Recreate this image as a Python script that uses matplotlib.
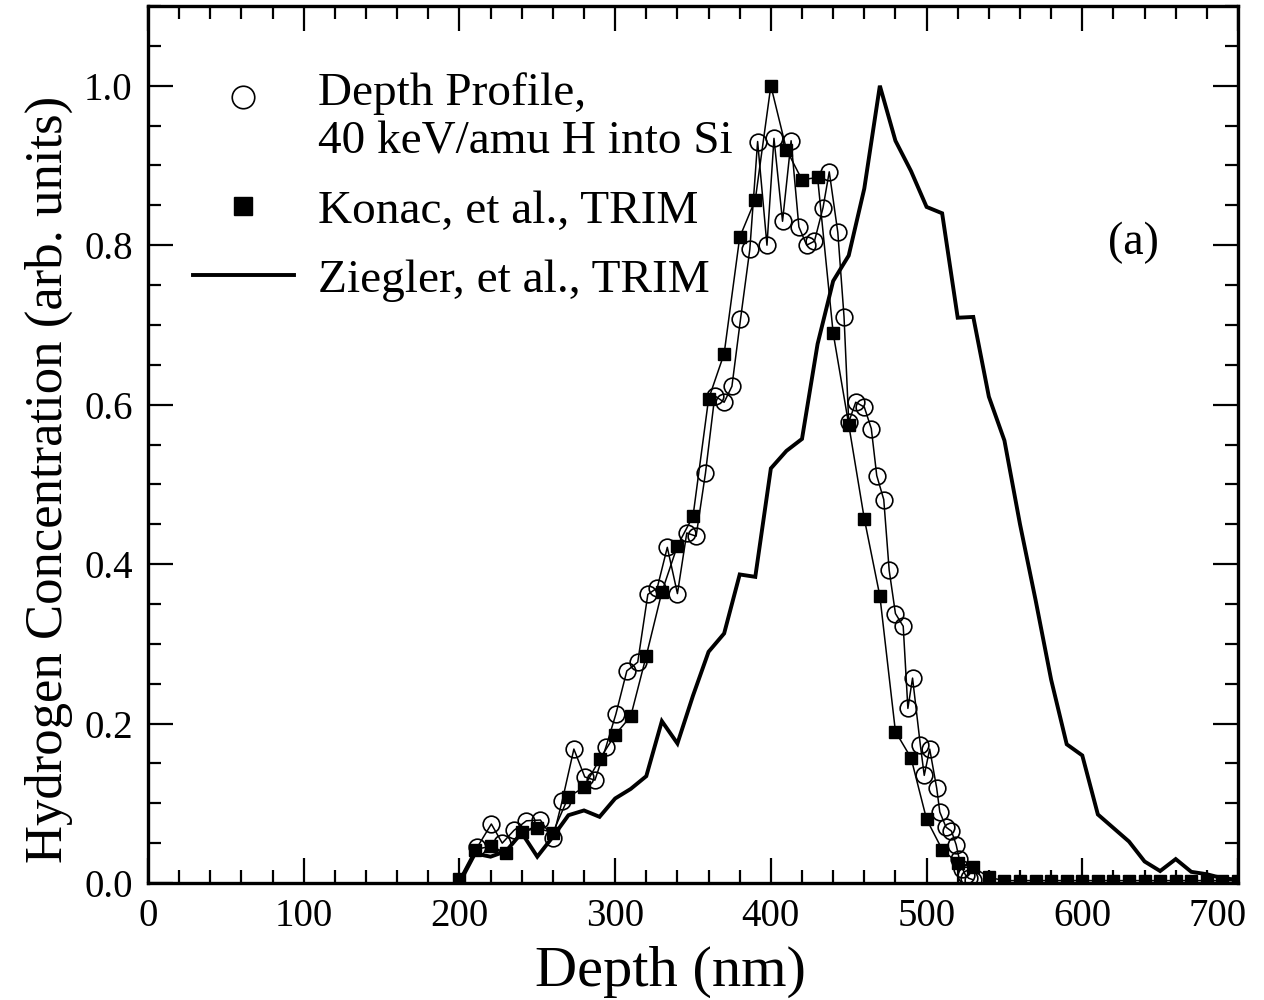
import numpy as np
import matplotlib
matplotlib.use("Agg")
import matplotlib.pyplot as plt
from matplotlib.ticker import MultipleLocator, FormatStrFormatter
from matplotlib.legend_handler import HandlerLine2D
import matplotlib.transforms as mtransforms

plt.rcParams['font.family'] = ['Liberation Serif', 'DejaVu Serif']

# ---- data ----
exp_depth = [211.5, 220.5, 227.5, 235, 243, 252, 260, 266, 273.5, 280.5, 287, 294,
             300.5, 307.5, 314.5, 321, 327, 333.5, 340, 346, 352, 358, 364, 370, 375,
             380.5, 386.5, 391.5, 397.5, 402, 407.5, 413, 418, 423, 428, 433.5, 437.5,
             443, 447, 450, 454.5, 460, 464.5, 468, 472.5, 476, 480, 485, 488, 491,
             496, 498.5, 502, 506.5, 508.5, 512.5, 516, 519, 521, 523, 525, 527, 530]
exp_conc = [0.045, 0.074, 0.050, 0.066, 0.078, 0.079, 0.056, 0.103, 0.168, 0.133, 0.129, 0.170,
            0.212, 0.266, 0.277, 0.362, 0.370, 0.421, 0.363, 0.439, 0.435, 0.514, 0.611, 0.603, 0.623,
            0.707, 0.795, 0.930, 0.800, 0.934, 0.830, 0.931, 0.823, 0.800, 0.805, 0.847, 0.892,
            0.816, 0.710, 0.578, 0.603, 0.597, 0.570, 0.511, 0.481, 0.392, 0.338, 0.322, 0.219, 0.257,
            0.173, 0.135, 0.168, 0.119, 0.089, 0.070, 0.065, 0.048, 0.030, 0.018, 0.010, 0.006, 0.004]

konac_depth = [200, 210, 220, 230, 240, 250, 260, 270, 280, 290, 300, 310, 320, 330, 340,
               350, 360, 370, 380, 390, 400, 410, 420, 430, 440, 450, 460, 470, 480, 490,
               500, 510, 520, 530, 540, 550, 560, 570, 580, 590, 600, 610, 620, 630, 640,
               650, 660, 670, 680, 690, 700]
konac_conc = [0.005, 0.042, 0.046, 0.038, 0.064, 0.069, 0.063, 0.108, 0.120, 0.155, 0.186, 0.209,
              0.285, 0.365, 0.423, 0.460, 0.607, 0.664, 0.810, 0.857, 1.000, 0.920, 0.882, 0.885,
              0.690, 0.575, 0.457, 0.360, 0.190, 0.157, 0.080, 0.042, 0.025, 0.020, 0.007,
              0.003, 0.003, 0.003, 0.003, 0.003, 0.003, 0.003, 0.003, 0.003, 0.003,
              0.003, 0.003, 0.003, 0.003, 0.003, 0.003]

ziegler_depth = [200, 210, 220, 230, 240, 250, 260, 270, 280, 290, 300, 310, 320, 330, 340,
                 350, 360, 370, 380, 390, 400, 410, 420, 430, 440, 450, 460, 470, 480, 490,
                 500, 510, 520, 530, 540, 550, 560, 570, 580, 590, 600, 610, 620, 630, 640,
                 650, 660, 670, 680, 690, 700]
ziegler_conc = [0.000, 0.037, 0.033, 0.040, 0.063, 0.033, 0.058, 0.085, 0.091, 0.083, 0.106, 0.118,
                0.134, 0.203, 0.175, 0.235, 0.290, 0.313, 0.387, 0.384, 0.520, 0.542, 0.557, 0.676,
                0.755, 0.787, 0.871, 1.000, 0.931, 0.893, 0.848, 0.840, 0.709, 0.710, 0.610,
                0.555, 0.450, 0.355, 0.255, 0.174, 0.160, 0.086, 0.069, 0.052, 0.027,
                0.015, 0.030, 0.014, 0.011, 0.006, 0.004]

labels = ["Depth Profile,\n40 keV/amu H into Si", "Konac, et al., TRIM", "Ziegler, et al., TRIM"]

# ---- figure ----
fig = plt.figure(figsize=(12.64, 10.0), dpi=100)
ax = fig.add_axes([148/1264, 117/1000, 1090/1264, 877/1000])

l_zie, = ax.plot(ziegler_depth, ziegler_conc, color='black', lw=2.8, zorder=2,
                 solid_joinstyle='miter')
l_exp, = ax.plot(exp_depth, exp_conc, color='black', lw=1.1, marker='o', ms=12,
                 mfc='none', mec='black', mew=1.2, zorder=3)
l_kon, = ax.plot(konac_depth, konac_conc, color='black', lw=1.1, marker='s', ms=9.3,
                 mfc='black', mec='black', zorder=4)

ax.set_xlim(0, 700)
ax.set_ylim(0, 1.1)
ax.xaxis.set_major_locator(MultipleLocator(100))
ax.xaxis.set_minor_locator(MultipleLocator(20))
ax.yaxis.set_major_locator(MultipleLocator(0.2))
ax.yaxis.set_minor_locator(MultipleLocator(0.05))
ax.yaxis.set_major_formatter(FormatStrFormatter('%.1f'))

ax.tick_params(which='both', direction='in', top=True, right=True, width=1.6,
               labelsize=28, pad=11)
ax.tick_params(which='major', length=18)
ax.tick_params(which='minor', length=9.5)
for s in ax.spines.values():
    s.set_linewidth(2.4)

ax.set_xlabel("Depth (nm)", fontsize=42)
ax.set_ylabel("Hydrogen Concentration (arb. units)", fontsize=38)
ax.xaxis.set_label_coords(0.479, -0.072)
ax.yaxis.set_label_coords(-0.069, 0.46)

fig.canvas.draw()
for t in ax.xaxis.get_majorticklabels():
    if t.get_text() == '700':
        t.set_transform(t.get_transform() +
                        mtransforms.ScaledTranslation(-0.2, 0, fig.dpi_scale_trans))


class ShiftedHandler(HandlerLine2D):
    def __init__(self, shift, **kw):
        super().__init__(**kw)
        self.shift = shift

    def create_artists(self, legend, orig_handle, xdescent, ydescent, width, height,
                       fontsize, trans):
        arts = super().create_artists(legend, orig_handle, xdescent, ydescent, width,
                                      height, fontsize, trans)
        for a in arts:
            a.set_ydata(np.asarray(a.get_ydata(), dtype=float) + self.shift)
        return arts


leg = ax.legend([l_exp, l_kon, l_zie], labels, loc='upper left',
                bbox_to_anchor=(0.041, 0.925), frameon=False, fontsize=34,
                handlelength=2.15, handletextpad=0.5, labelspacing=0.55,
                numpoints=1, markerscale=1.35, borderpad=0, borderaxespad=0,
                handler_map={l_exp: ShiftedHandler(15, marker_pad=0.3)})
for h in leg.legend_handles[:2]:
    h.set_linestyle('none')
for t in leg.get_texts():
    t.set_linespacing(1.2)

ax.text(0.904, 0.73, "(a)", transform=ax.transAxes, fontsize=33,
        ha='center', va='center')

fig.savefig("out.png", dpi=100)
